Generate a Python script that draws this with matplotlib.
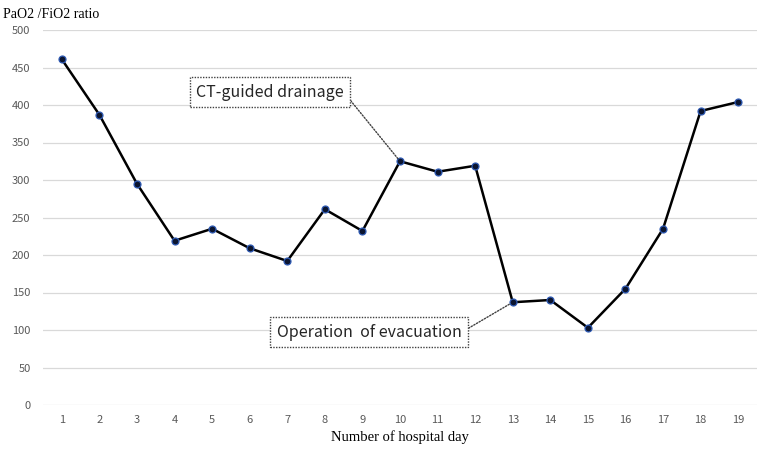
import matplotlib
matplotlib.use("Agg")
import matplotlib.pyplot as plt

days = list(range(1, 20))
ratio = [461, 387, 295, 219, 235, 209, 192, 261, 232, 325, 311, 319, 137, 140, 103, 155, 235, 392, 404]
yticks = [0, 50, 100, 150, 200, 250, 300, 350, 400, 450, 500]
ylabel = "PaO2 /FiO2 ratio"
xlabel = "Number of hospital day"
notes = [("CT-guided drainage", 10, 6.54, 417), ("Operation  of evacuation", 13, 9.18, 97)]

W, H = 762, 453
fig = plt.figure(figsize=(W / 100, H / 100), dpi=100)
ax = fig.add_axes([43 / W, (H - 405) / H, (757 - 43) / W, (405 - 30) / H])

tickfont = "Noto Sans CJK JP"
ax.plot(days, ratio, color="black", lw=1.8, marker="o", ms=5,
        markerfacecolor="#0b1530", markeredgecolor="#2f5bb5", markeredgewidth=0.9, zorder=3)

ax.set_xlim(0.5, 19.5)
ax.set_ylim(0, 500)
ax.set_yticks(yticks)
ax.set_xticks(days)
ax.grid(axis="y", color="#d9d9d9", lw=0.9)
ax.set_axisbelow(True)
for s in ax.spines.values():
    s.set_visible(False)
ax.tick_params(length=0, labelcolor="#595959", labelsize=8)
ax.tick_params(axis="y", pad=9)
ax.tick_params(axis="x", pad=7)
for lab in ax.get_xticklabels() + ax.get_yticklabels():
    lab.set_family(tickfont)

fig.text(3 / W, 1 - 14 / H, ylabel, family="Liberation Serif", fontsize=10, ha="left", va="center")
fig.text(400 / W, 1 - 437 / H, xlabel, family="Liberation Serif", fontsize=10.5, ha="center", va="center")

for txt, d, tx, ty in notes:
    ax.annotate(txt, xy=(d, ratio[d - 1]), xytext=(tx, ty), textcoords="data",
                ha="center", va="center", fontsize=11.5, family=tickfont, color="#262626",
                bbox=dict(boxstyle="square,pad=0.4", fc="white", ec="#404040", ls=(0, (1, 1)), lw=1.0),
                arrowprops=dict(arrowstyle="-", color="#404040", ls=(0, (1, 1.2)), lw=1.0,
                                relpos=(1, 0.5), shrinkA=0, shrinkB=2))

fig.savefig("out.png", dpi=100)
